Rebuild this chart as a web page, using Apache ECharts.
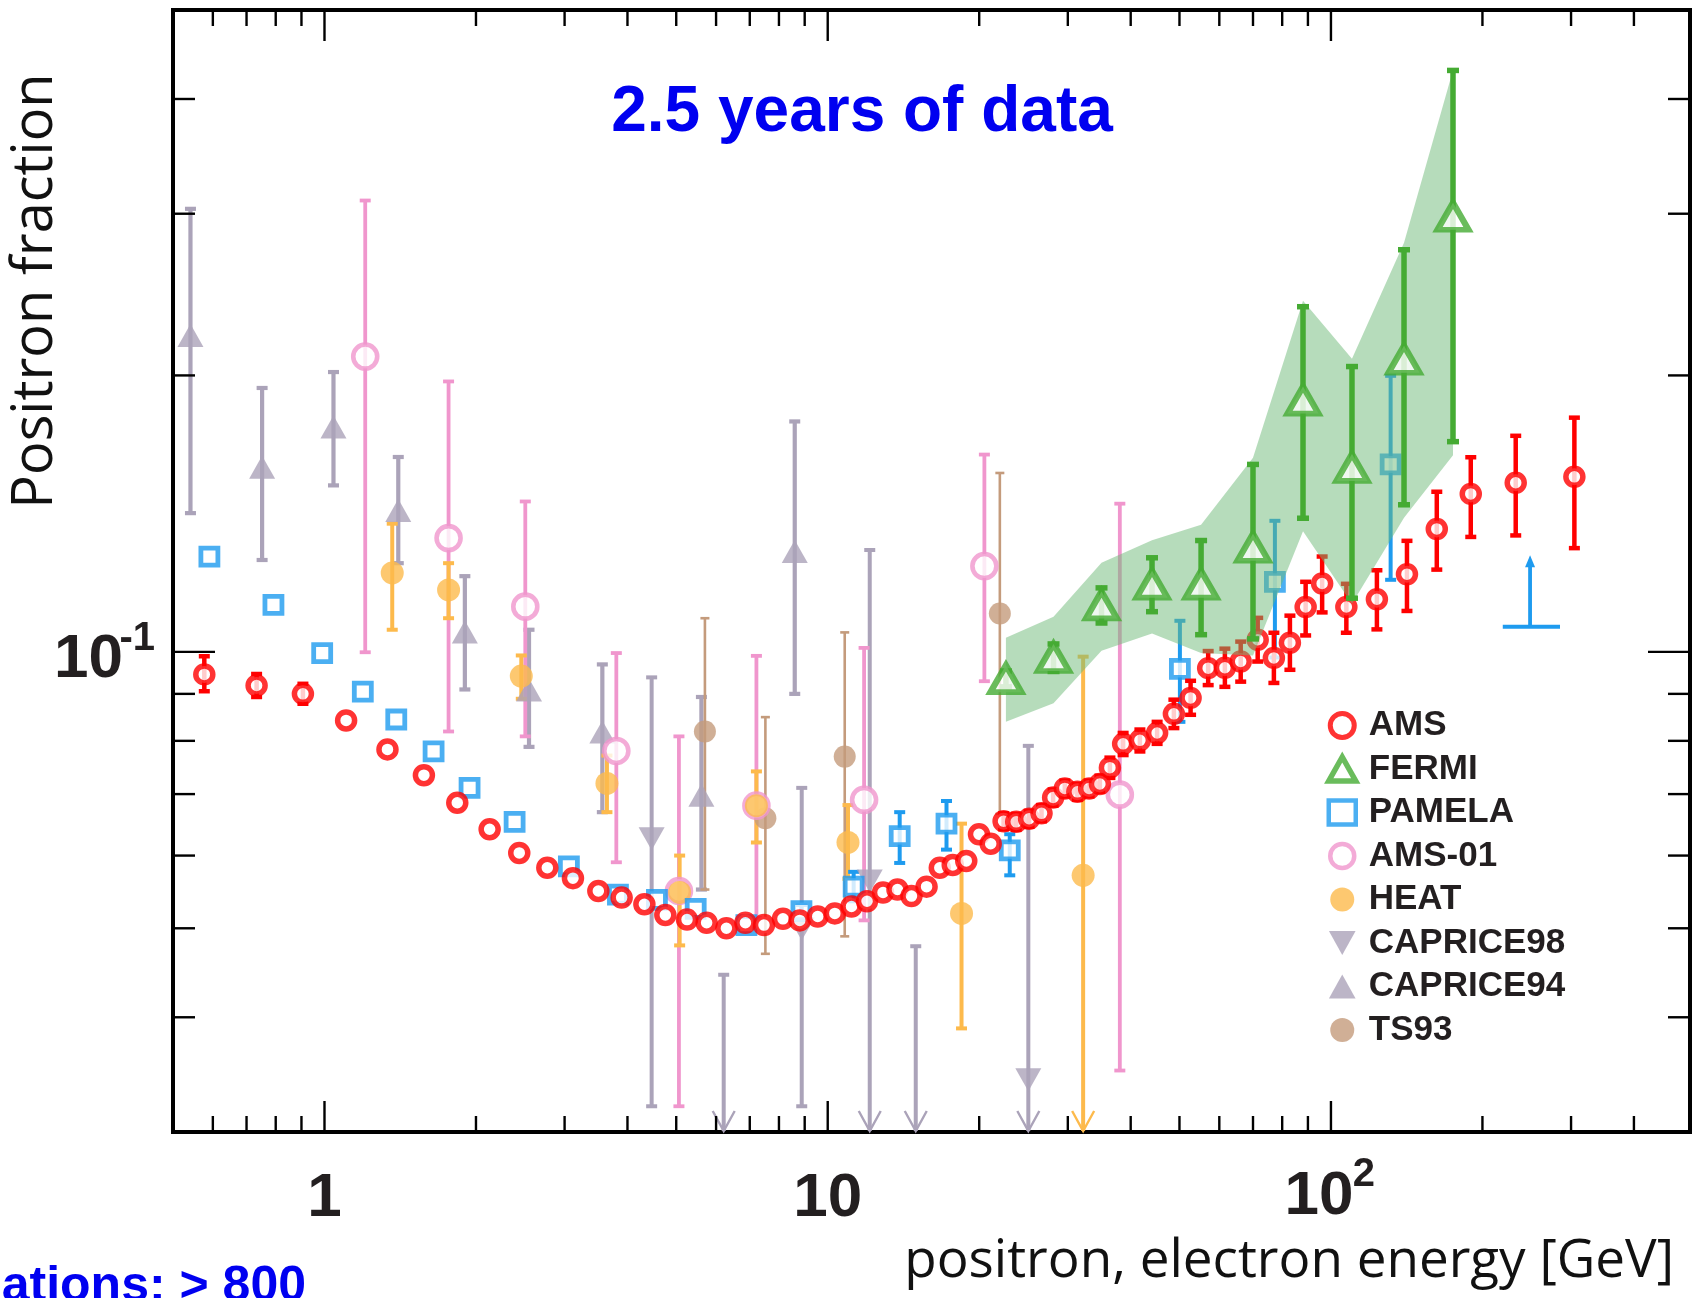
<!DOCTYPE html>
<html><head><meta charset="utf-8">
<script src="https://cdn.jsdelivr.net/npm/echarts@6/dist/echarts.min.js"></script>
<style>html,body{margin:0;padding:0;background:#fff}#c{width:1694px;height:1298px}</style>
</head><body><div id="c"></div>
<script>
// ---------------- data (energy in GeV, positron fraction) ----------------
const amsE = [0.577,0.733,0.906,1.104,1.334,1.576,1.836,2.129,2.438,2.772,3.117,3.501,3.895,4.322,4.757,5.253,5.746,6.290,6.861,7.471,8.149,8.798,9.552,10.33,11.15,11.97,12.88,13.76,14.67,15.72,16.70,17.72,18.85,19.98,21.08,22.36,23.69,25.13,26.60,28.05,29.59,31.34,33.07,34.74,36.37,38.64,41.72,45.14,48.74,52.61,57.02,61.55,66.17,71.52,77.02,82.88,89.07,96.05,107.3,123.4,141.6,162.3,189.6,232.9,304.6];
const amsF = [0.0945,0.0919,0.0900,0.0842,0.0783,0.0734,0.0685,0.0641,0.0604,0.0582,0.0567,0.0549,0.0540,0.0531,0.0517,0.0511,0.0507,0.0500,0.0507,0.0504,0.0512,0.0510,0.0515,0.0519,0.0528,0.0535,0.0547,0.0551,0.0542,0.0555,0.0582,0.0586,0.0592,0.0633,0.0618,0.0654,0.0653,0.0658,0.0667,0.0694,0.0710,0.0704,0.0710,0.0718,0.0748,0.0794,0.0801,0.0816,0.0856,0.0891,0.0960,0.0961,0.0976,0.1031,0.0985,0.1023,0.1119,0.1187,0.1119,0.1141,0.1215,0.1361,0.1486,0.1528,0.1551];
const amsLo = [0.0906,0.0893,0.0878,null,null,null,null,null,null,null,null,null,null,null,null,null,null,null,null,null,null,null,null,null,null,null,null,null,null,null,null,null,null,null,null,0.0641,0.0640,0.0645,0.0654,0.0680,0.0696,0.0690,0.0696,0.0704,0.0729,0.0772,0.0779,0.0794,0.0826,0.0854,0.0920,0.0916,0.0928,0.0976,0.0925,0.0956,0.1042,0.1104,0.1049,0.1058,0.1108,0.1229,0.1334,0.1339,0.1297];
const amsHi = [0.0989,0.0946,0.0923,null,null,null,null,null,null,null,null,null,null,null,null,null,null,null,null,null,null,null,null,null,null,null,null,null,null,null,null,null,null,null,null,0.0667,0.0666,0.0671,0.0681,0.0708,0.0724,0.0718,0.0724,0.0733,0.0767,0.0816,0.0823,0.0839,0.0887,0.0930,0.1002,0.1008,0.1026,0.1089,0.1049,0.1095,0.1192,0.1270,0.1186,0.1227,0.1321,0.1494,0.1629,0.1719,0.1799];

const fermiE = [22.6,28.1,35.0,44.1,55.2,70.0,88.0,110.1,139.7,174.8];
const fermiF = [0.0935,0.0986,0.1125,0.1185,0.1185,0.1300,0.1880,0.1588,0.2083,0.2981];
const fermiLo = [0.0916,0.0952,0.1075,0.1106,0.1044,0.1033,0.1398,0.1144,0.1446,0.1694];
const fermiHi = [0.0953,0.1020,0.1174,0.1266,0.1322,0.1600,0.2376,0.2045,0.2741,0.4297];
const bandLo = [0.0839,0.0879,0.1003,0.1047,0.0997,0.0991,0.1353,0.1128,0.1400,0.1637];
const bandHi = [0.1036,0.1092,0.1250,0.1323,0.1375,0.1627,0.2412,0.2085,0.2790,0.4300];

const pamE = [0.5906,0.7917,0.9895,1.1917,1.3888,1.6474,1.9422,2.3867,3.0596,3.8296,4.5774,5.4655,6.8927,8.867,11.26,13.90,17.22,23.00,50.10,77.38,131.4];
const pamF = [0.1270,0.1125,0.0997,0.0905,0.0844,0.0779,0.0711,0.0653,0.0584,0.0544,0.0537,0.0525,0.0504,0.0522,0.0555,0.0630,0.0650,0.0608,0.0958,0.1192,0.1600];
const pamLo = [null,null,null,null,null,null,null,null,null,null,null,null,null,0.0514,0.0535,0.0589,0.0609,0.0571,0.0839,0.0986,0.1198];
const pamHi = [null,null,null,null,null,null,null,null,null,null,null,null,null,0.0530,0.0576,0.0669,0.0688,0.0633,0.1081,0.1389,0.1998];

const a01E = [1.2049,1.7643,2.5063,3.8014,5.0622,7.2164,11.811,20.48,38.06];
const a01F = [0.2097,0.1330,0.1120,0.0780,0.0549,0.0680,0.0690,0.1240,0.0699];
const a01Lo = [0.0999,0.0819,0.0809,0.0590,0.0320,0.0513,0.0510,0.0929,0.0350];
const a01Hi = [0.3101,0.1970,0.1458,0.0997,0.0809,0.0990,0.1010,0.1640,0.1450];

const heatE = [1.3634,1.7643,2.4608,3.6414,5.0786,7.2164,10.972,18.446,32.178];
const heatF = [0.1219,0.1168,0.0941,0.0719,0.0547,0.0680,0.0620,0.0519,0.0571];
const heatLo = [0.1057,0.1088,0.0889,0.0669,0.0479,0.0620,0.0566,0.0389,0.03];
const heatHi = [0.1379,0.1249,0.0991,0.0771,0.0600,0.0741,0.0681,0.0650,0.0988];
const heatLimit = [0,0,0,0,0,0,0,0,1];

const c98E = [4.468,6.213,8.879,12.12,14.96,25.04];
const c98F = [0.0626,null,0.0499,0.0563,null,0.0342];
const c98Lo = [0.0320,0.03,0.0320,0.03,0.03,0.03];
const c98Hi = [0.0938,0.0445,0.0711,0.1291,0.0478,0.0790];
const c98Limit = [0,1,0,1,1,1];

const c94E = [0.5416,0.7517,1.0420,1.4016,1.9008,2.5493,3.5656,5.6105,8.5994];
const c94F = [0.2211,0.1589,0.1757,0.1425,0.1051,0.0909,0.0818,0.0698,0.1286];
const c94Lo = [0.1416,0.1259,0.1518,0.1249,0.0910,0.0788,0.0669,0.0551,0.0900];
const c94Hi = [0.3037,0.1938,0.2017,0.1630,0.1209,0.1057,0.0969,0.0893,0.1782];

const tsE = [5.7014,7.5185,10.809,21.981];
const tsF = [0.0819,0.0659,0.0769,0.1101];
const tsLo = [0.0551,0.0469,0.0490,0.0666];
const tsHi = [0.1088,0.0849,0.1050,0.1566];

// blue limit mark: [E low, E centre, E high], [fraction base, fraction tip]
const limitE = [219.5,248.7,285.2];
const limitF = [0.1065,0.1274];

// axes
const xMin = 0.5, xMax = 517, yMin = 0.03, yMax = 0.5;
const xMajorTicks = [1,10,100];
const xMinorTicks = [0.6,0.7,0.8,0.9,2,3,4,5,6,7,8,9,20,30,40,50,60,70,80,90,200,300,400];
const yMajorTicks = [0.1];
const yMinorTicks = [0.04,0.05,0.06,0.07,0.08,0.09,0.2,0.3,0.4];
const xLabelValues = [1,10,100];
const xLabelBase = ['1','10','10'];
const xLabelExp = ['','','2'];
const yLabelValues = [0.1];
const yLabelBase = ['10'];
const yLabelExp = ['-1'];

const legendNames = ['AMS','FERMI','PAMELA','AMS-01','HEAT','CAPRICE98','CAPRICE94','TS93'];

// ---------------- styling ----------------
const C = {
  ams:'#ff0000', fermi:'#45ab33', pam:'#1e9bef', a01:'#f096cd', heat:'#fdba4c',
  cap:'#aba3b9', ts:'#c49b7c', band:'rgba(109,185,119,0.5)', ink:'#231f20'
};
const FB = '"Liberation Sans", Arial, Helvetica, sans-serif';
const FO = '"Open Sans", "DejaVu Sans", sans-serif';

function pts(E, F){ const out=[]; E.forEach((e,i)=>{ if(F[i]!=null) out.push([e,F[i]]); }); return out; }
function errPts(E, lo, hi, lim){ const out=[]; E.forEach((e,i)=>{ if(lo[i]!=null) out.push([e, lo[i], hi[i], lim?lim[i]:0]); }); return out; }

function errSeries(name, data, color, lw, capW, z){
  return {
    type:'custom', name:name, coordinateSystem:'cartesian2d', z:z, silent:true,
    encode:{x:0, y:[1,2]}, data:data,
    renderItem(params, api){
      const cs = params.coordSys;
      const e = api.value(0);
      const pHi = api.coord([e, api.value(2)]);
      const pLo = api.coord([e, api.value(1)]);
      const lim = api.value(3) === 1;
      const x = pHi[0];
      const yb = lim ? cs.y + cs.height - 1 : pLo[1];
      const st = {stroke:color, lineWidth:lw, fill:null};
      const ch = [
        {type:'line', shape:{x1:x, y1:pHi[1], x2:x, y2:yb}, style:st},
        {type:'line', shape:{x1:x-capW/2, y1:pHi[1], x2:x+capW/2, y2:pHi[1]}, style:st}
      ];
      if (!lim) ch.push({type:'line', shape:{x1:x-capW/2, y1:yb, x2:x+capW/2, y2:yb}, style:st});
      else ch.push({type:'polyline', shape:{points:[[x-11,yb-20],[x,yb],[x+11,yb-20]]}, style:{stroke:color, lineWidth:2.4, fill:null}});
      return {type:'group', children:ch};
    }
  };
}

function markSeries(name, data, opts, z){
  return Object.assign({type:'scatter', name:name, data:data, z:z, silent:true}, opts);
}

function tickSeries(values, len, isX, z){
  return {
    type:'custom', coordinateSystem:'cartesian2d', z:z, silent:true,
    data: values.map(v => isX ? [v, 0.1] : [1, v]),
    renderItem(params, api){
      const cs = params.coordSys;
      const p = api.coord([api.value(0), api.value(1)]);
      const st = {stroke:'#000', lineWidth:2.4};
      if (isX){
        const yb = cs.y + cs.height, yt = cs.y;
        return {type:'group', children:[
          {type:'line', shape:{x1:p[0], y1:yb, x2:p[0], y2:yb-len}, style:st},
          {type:'line', shape:{x1:p[0], y1:yt, x2:p[0], y2:yt+len}, style:st}]};
      }
      const xl = cs.x, xr = cs.x + cs.width;
      return {type:'group', children:[
        {type:'line', shape:{x1:xl, y1:p[1], x2:xl+len, y2:p[1]}, style:st},
        {type:'line', shape:{x1:xr, y1:p[1], x2:xr-len, y2:p[1]}, style:st}]};
    }
  };
}

function txt(text, x, y, font, fill, align){
  return {type:'text', style:{text:text, x:x, y:y, font:font, fill:fill,
    align:align, textAlign:align, verticalAlign:'middle', textVerticalAlign:'middle'}};
}

const xLabelSeries = {
  type:'custom', coordinateSystem:'cartesian2d', z:9, silent:true,
  data: xLabelValues.map(v => [v, 0.1]),
  renderItem(params, api){
    const i = params.dataIndex, cs = params.coordSys;
    const x = api.coord([api.value(0), 0.1])[0];
    const yb = cs.y + cs.height;
    if (!xLabelExp[i]) return {type:'group', children:[txt(xLabelBase[i], x, yb+67, 'bold 62px '+FB, C.ink, 'center')]};
    return {type:'group', children:[
      txt(xLabelBase[i], x-12, yb+65, 'bold 62px '+FB, C.ink, 'center'),
      txt(xLabelExp[i], x+33, yb+43, 'bold 40px '+FB, C.ink, 'center')]};
  }
};
const yLabelSeries = {
  type:'custom', coordinateSystem:'cartesian2d', z:9, silent:true,
  data: yLabelValues.map(v => [1, v]),
  renderItem(params, api){
    const i = params.dataIndex, cs = params.coordSys;
    const y = api.coord([1, api.value(1)])[1];
    const x = cs.x;
    return {type:'group', children:[
      txt(yLabelBase[i], x-50, y+8, 'bold 62px '+FB, C.ink, 'right'),
      txt(yLabelExp[i], x-18, y-13, 'bold 40px '+FB, C.ink, 'right')]};
  }
};

const bandSeries = {
  type:'custom', coordinateSystem:'cartesian2d', z:6, silent:true,
  data: fermiE.map((e,i)=>[e, bandLo[i], bandHi[i]]),
  encode:{x:0, y:[1,2]},
  renderItem(params, api){
    if (params.dataIndex !== 0) return null;
    const up = fermiE.map((e,i)=>api.coord([e, bandHi[i]]));
    const dn = fermiE.map((e,i)=>api.coord([e, bandLo[i]])).reverse();
    return {type:'polygon', shape:{points: up.concat(dn)}, style:{fill:C.band, stroke:null}};
  }
};

const limitSeries = {
  type:'custom', coordinateSystem:'cartesian2d', z:9, silent:true,
  data:[[limitE[1], limitF[0], limitF[1]]],
  renderItem(params, api){
    const pL = api.coord([limitE[0], limitF[0]]);
    const pR = api.coord([limitE[2], limitF[0]]);
    const pB = api.coord([api.value(0), api.value(1)]);
    const pT = api.coord([api.value(0), api.value(2)]);
    const st = {stroke:C.pam, lineWidth:3.8, fill:null};
    return {type:'group', children:[
      {type:'line', shape:{x1:pL[0], y1:pL[1], x2:pR[0], y2:pR[1]}, style:st},
      {type:'line', shape:{x1:pB[0], y1:pB[1], x2:pT[0], y2:pT[1]+8}, style:st},
      {type:'polygon', shape:{points:[[pT[0],pT[1]],[pT[0]-5,pT[1]+12],[pT[0]+5,pT[1]+12]]}, style:{fill:C.pam}}]};
  }
};

const openStyle = (c,w)=>({color:'#ffffff', borderColor:c, borderWidth:w});

const series = [
  // lower layer: other experiments
  errSeries('c94e', errPts(c94E,c94Lo,c94Hi), C.cap, 4.2, 11, 2),
  errSeries('c98e', errPts(c98E,c98Lo,c98Hi,c98Limit), C.cap, 4, 11, 2),
  errSeries('tse', errPts(tsE,tsLo,tsHi), C.ts, 2.6, 9, 2),
  errSeries('a01e', errPts(a01E,a01Lo,a01Hi), C.a01, 3.8, 11, 2),
  errSeries('heate', errPts(heatE,heatLo,heatHi,heatLimit), C.heat, 4, 11, 2),
  errSeries('pame', errPts(pamE,pamLo,pamHi), C.pam, 4, 11, 2),
  markSeries('CAPRICE94', pts(c94E,c94F), {symbol:'triangle', symbolSize:[26,23], itemStyle:{color:C.cap}}, 3),
  markSeries('CAPRICE98', pts(c98E,c98F), {symbol:'triangle', symbolRotate:180, symbolSize:[26,23], itemStyle:{color:C.cap}}, 3),
  markSeries('TS93', pts(tsE,tsF), {symbol:'circle', symbolSize:22, itemStyle:{color:C.ts}}, 3),
  markSeries('AMS-01', pts(a01E,a01F), {symbol:'circle', symbolSize:24, itemStyle:openStyle(C.a01,4.6)}, 3),
  markSeries('HEAT', pts(heatE,heatF), {symbol:'circle', symbolSize:23, itemStyle:{color:C.heat}}, 3),
  markSeries('PAMELA', pts(pamE,pamF), {symbol:'rect', symbolSize:17, itemStyle:openStyle(C.pam,4.8)}, 3),
  // AMS
  errSeries('amse', errPts(amsE,amsLo,amsHi), C.ams, 4.5, 11, 4),
  markSeries('AMS', pts(amsE,amsF), {symbol:'circle', symbolSize:17, itemStyle:openStyle(C.ams,5.5)}, 5),
  // Fermi band and points
  bandSeries,
  errSeries('fermie', errPts(fermiE,fermiLo,fermiHi), C.fermi, 5.5, 12, 7),
  markSeries('FERMI', pts(fermiE,fermiF), {symbol:'triangle', symbolSize:[31,27], itemStyle:openStyle(C.fermi,6)}, 8),
  limitSeries,
  tickSeries(xMajorTicks, 31, true, 9),
  tickSeries(xMinorTicks, 16, true, 9),
  tickSeries(yMajorTicks, 42, false, 9),
  tickSeries(yMinorTicks, 22, false, 9),
  xLabelSeries,
  yLabelSeries
];

// legend icon styling per entry
const legendIconStyle = {
  'AMS':      {icon:'circle', itemStyle:{color:'#fff', borderColor:C.ams, borderWidth:5}},
  'FERMI':    {icon:'triangle', itemStyle:{color:'#fff', borderColor:C.fermi, borderWidth:5.5}},
  'PAMELA':   {icon:'rect', itemStyle:{color:'#fff', borderColor:C.pam, borderWidth:4.5}},
  'AMS-01':   {icon:'circle', itemStyle:{color:'#fff', borderColor:C.a01, borderWidth:4.5}},
  'HEAT':     {icon:'circle', itemStyle:{color:C.heat, borderWidth:0}},
  'CAPRICE98':{icon:'path://M0,0 L20,0 L10,18 Z', itemStyle:{color:C.cap, borderWidth:0}},
  'CAPRICE94':{icon:'path://M10,0 L20,18 L0,18 Z', itemStyle:{color:C.cap, borderWidth:0}},
  'TS93':     {icon:'circle', itemStyle:{color:C.ts, borderWidth:0}}
};

const chart = echarts.init(document.getElementById('c'), null, {renderer:'canvas'});
chart.setOption({
  animation:false,
  backgroundColor:'#ffffff',
  grid:{left:173, top:10, right:4, bottom:166, show:true, borderColor:'#000', borderWidth:4, backgroundColor:'transparent', outerBoundsMode:'none', containLabel:false},
  xAxis:{type:'log', logBase:10, min:xMin, max:xMax, axisLine:{show:false}, axisTick:{show:false}, axisLabel:{show:false}, splitLine:{show:false}, minorTick:{show:false}},
  yAxis:{type:'log', logBase:10, min:yMin, max:yMax, axisLine:{show:false}, axisTick:{show:false}, axisLabel:{show:false}, splitLine:{show:false}, minorTick:{show:false}},
  legend:{
    data:legendNames.map(n => Object.assign({name:n}, legendIconStyle[n])),
    orient:'vertical', left:1326, top:708, padding:0,
    itemWidth:27, itemHeight:24, itemGap:8.5, itemTextGap:17, selectedMode:false,
    textStyle:{fontSize:35, fontWeight:'bold', fontFamily:FB, color:C.ink, lineHeight:34, padding:[0,0,0,8]}
  },
  graphic:[
    {type:'text', x:862, y:113, silent:true, style:{text:'2.5 years of data', font:'bold 64px '+FB, fill:'#0000f0', align:'center', textAlign:'center', verticalAlign:'middle', textVerticalAlign:'middle'}},
    {type:'text', x:36, y:291, rotation:Math.PI/2, silent:true, style:{text:'Positron fraction', font:'56px '+FO, fill:'#111111', align:'center', textAlign:'center', verticalAlign:'middle', textVerticalAlign:'middle'}},
    {type:'text', x:1674, y:1262, silent:true, style:{text:'positron, electron energy [GeV]', font:'53px '+FO, fill:'#111111', align:'right', textAlign:'right', verticalAlign:'middle', textVerticalAlign:'middle'}},
    {type:'text', x:306, y:1287, silent:true, style:{text:'ations: > 800', font:'bold 50px '+FB, fill:'#0000f0', align:'right', textAlign:'right', verticalAlign:'middle', textVerticalAlign:'middle'}}
  ],
  series:series
});
</script></body></html>
